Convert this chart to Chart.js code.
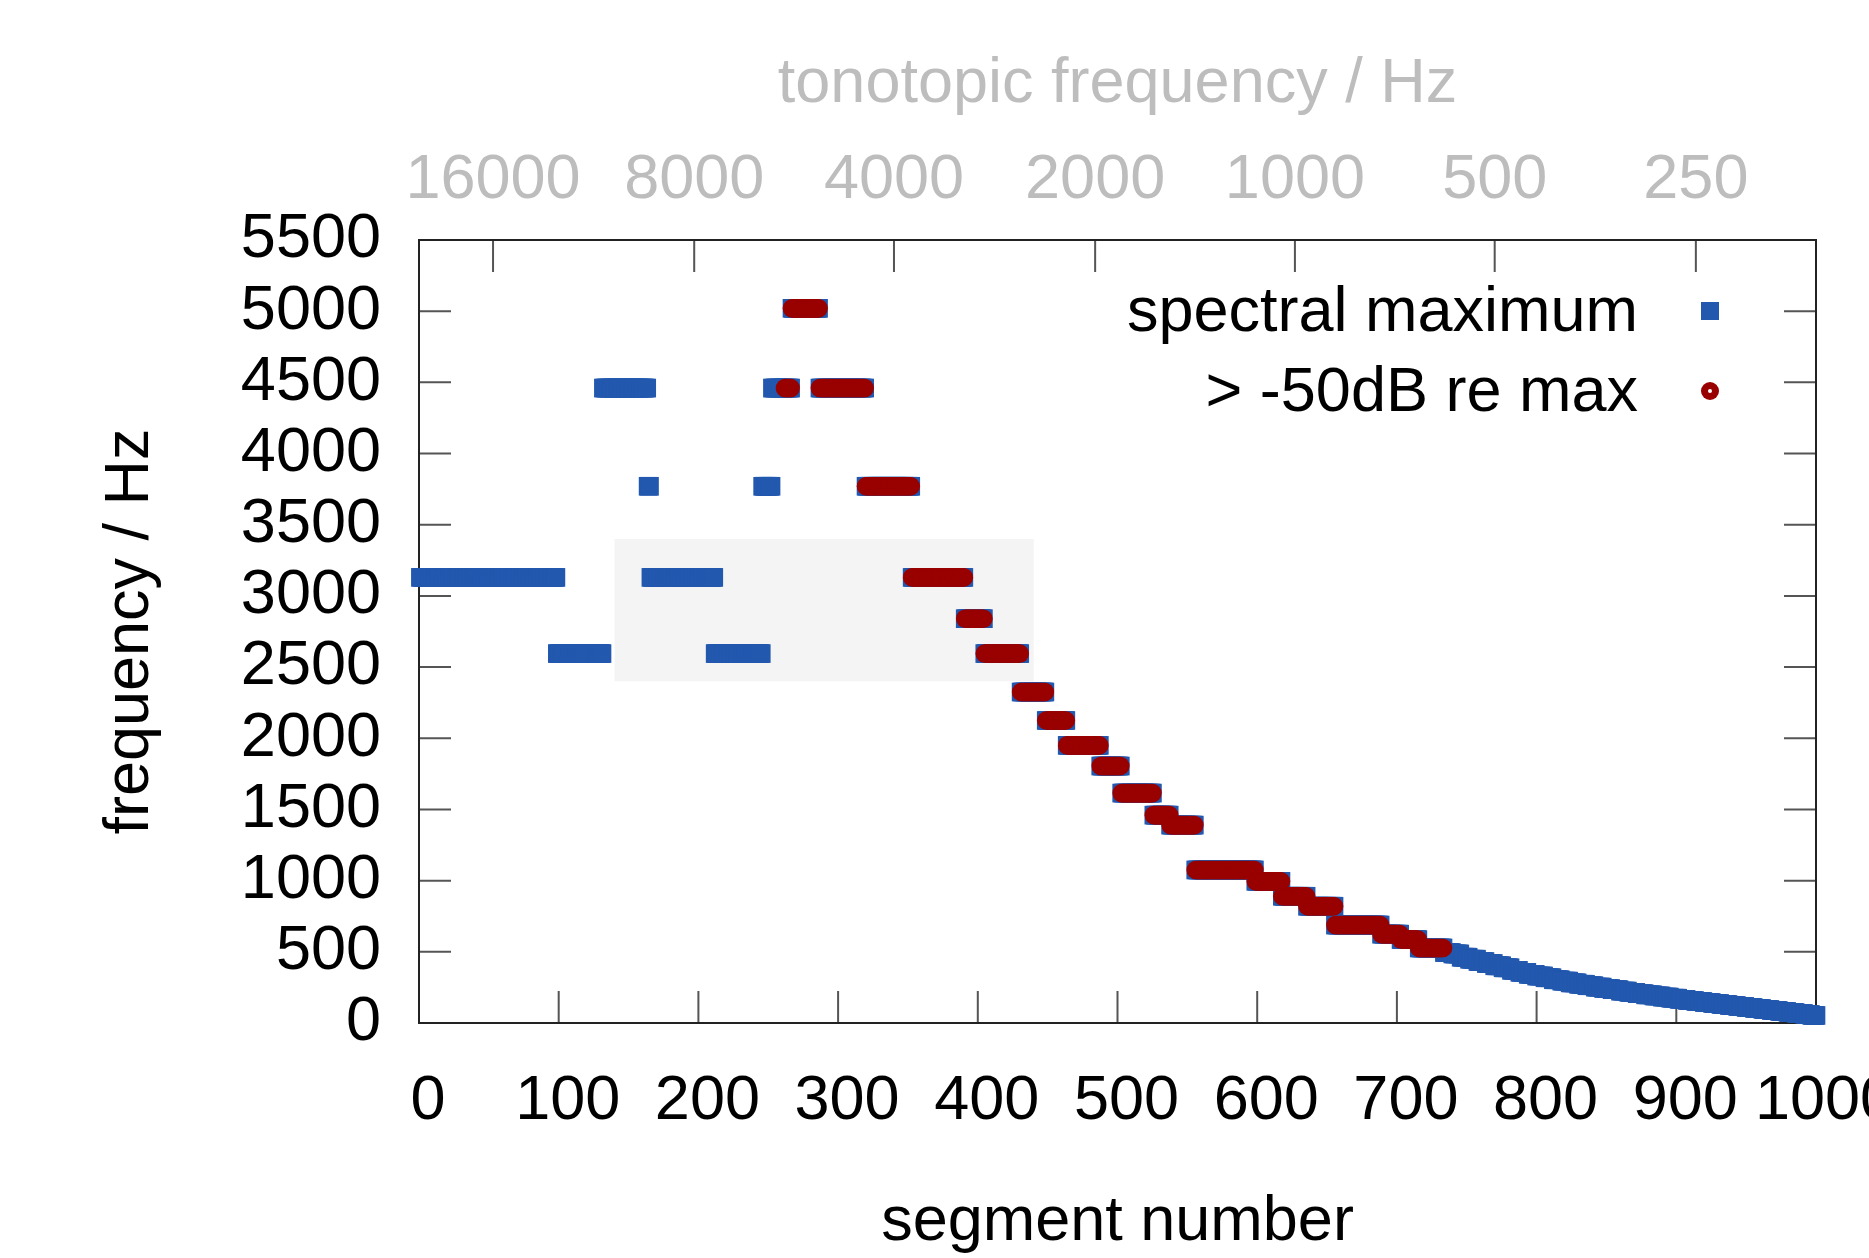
<!DOCTYPE html>
<html>
<head>
<meta charset="utf-8">
<title>spectral maximum per segment</title>
<script src="https://cdn.jsdelivr.net/npm/chart.js@4.4.1/dist/chart.umd.min.js"></script>
<style>
  html, body { margin: 0; padding: 0; background: #fff; }
  #wrap { width: 1869px; height: 1258px; position: relative; }
</style>
</head>
<body>
<div id="wrap"><canvas id="segChart"></canvas></div>
<script>
// runs of constant spectral maximum: first segment, last segment, frequency in Hz
const runStart = [1, 99, 132, 164, 166, 212, 246, 253, 267, 287, 320, 353, 391, 405, 431, 449, 464, 488, 503, 526, 538, 556, 599, 618, 636, 656, 689, 703, 716,
  734, 740, 746, 752, 758, 764, 770, 776, 782, 788, 794, 800, 806, 812, 818, 824, 830, 836, 842, 848, 854, 860, 866, 872, 878, 884, 890, 896,
  902, 908, 914, 920, 926, 932, 938, 944, 950, 956, 962, 968, 974, 980, 986, 992, 997];
const runEnd = [98, 131, 163, 165, 211, 245, 252, 266, 286, 319, 352, 390, 404, 430, 448, 463, 487, 502, 525, 537, 555, 598, 617, 635, 655, 688, 702, 715, 733,
  739, 745, 751, 757, 763, 769, 775, 781, 787, 793, 799, 805, 811, 817, 823, 829, 835, 841, 847, 853, 859, 865, 871, 877, 883, 889, 895, 901,
  907, 913, 919, 925, 931, 937, 943, 949, 955, 961, 967, 973, 979, 985, 991, 996, 1000];
const runFreq = [3130, 2595, 4460, 3770, 3130, 2595, 3770, 4460, 5020, 4460, 3770, 3130, 2840, 2595, 2325, 2125, 1950, 1805, 1615, 1460, 1390, 1075, 995, 890, 820, 688, 624, 586, 527,
  495, 485, 462, 448, 432, 418, 402, 388, 370, 356, 342, 330, 318, 304, 294, 282, 272, 262, 252, 242, 234, 224, 215, 206, 198, 190, 182, 174,
  166, 158, 151, 144, 137, 130, 123, 116, 109, 102, 95, 88, 81, 74, 67, 60, 53];

// segments whose maximum lies within 50 dB of the overall maximum
const loudRange = [262, 733];

// top axis: tonotopic frequency at segment positions
const tonoTickPos = [53, 197, 340, 484, 627, 770, 914];
const tonoTickLabels = ['16000', '8000', '4000', '2000', '1000', '500', '250'];

// shaded region (segment range, frequency range)
const shadeSeg = [140, 440];
const shadeFreq = [2400, 3400];

const FONT = 'Liberation Sans, Arial, Helvetica, sans-serif';
const BLUE = '#2258ae';
const RED = '#990000';
const GREY = '#bdbdbd';

const maxPoints = [];
const loudPoints = [];
runStart.forEach((s, i) => {
    for (let seg = s; seg <= runEnd[i]; seg++) {
        maxPoints.push({ x: seg, y: runFreq[i] });
        if (seg >= loudRange[0] && seg <= loudRange[1]) {
            loudPoints.push({ x: seg, y: runFreq[i] });
        }
    }
});

// border, inward ticks and shaded box, drawn under the points
const frame = {
    id: 'frame',
    beforeDatasetsDraw(chart) {
        const { ctx, chartArea: a, scales } = chart;
        const x = scales.x, x2 = scales.x2, y = scales.y;
        ctx.save();
        const bx0 = x.getPixelForValue(shadeSeg[0]);
        const bx1 = x.getPixelForValue(shadeSeg[1]);
        const by0 = y.getPixelForValue(shadeFreq[1]);
        const by1 = y.getPixelForValue(shadeFreq[0]);
        ctx.fillStyle = '#f4f4f4';
        ctx.fillRect(bx0, by0, bx1 - bx0, by1 - by0);

        const len = 32;
        ctx.strokeStyle = '#555';
        ctx.lineWidth = 2;
        ctx.beginPath();
        x.ticks.forEach(t => {
            const px = x.getPixelForValue(t.value);
            ctx.moveTo(px, a.bottom);
            ctx.lineTo(px, a.bottom - len);
        });
        x2.ticks.forEach(t => {
            const px = x2.getPixelForValue(t.value);
            ctx.moveTo(px, a.top);
            ctx.lineTo(px, a.top + len);
        });
        y.ticks.forEach(t => {
            const py = y.getPixelForValue(t.value);
            ctx.moveTo(a.left, py);
            ctx.lineTo(a.left + len, py);
            ctx.moveTo(a.right, py);
            ctx.lineTo(a.right - len, py);
        });
        ctx.stroke();
        ctx.strokeStyle = '#222';
        ctx.strokeRect(a.left, a.top, a.right - a.left, a.bottom - a.top);
        ctx.restore();
    }
};

// key in the top right corner, text first then the marker
const key = {
    id: 'key',
    afterDraw(chart) {
        const { ctx, chartArea: a } = chart;
        ctx.save();
        ctx.font = '63px ' + FONT;
        ctx.textAlign = 'right';
        ctx.textBaseline = 'alphabetic';
        const textX = a.right - 178;
        const markX = a.right - 106;
        chart.data.datasets.forEach((ds, i) => {
            const cy = a.top + 71 + i * 80;
            ctx.fillStyle = '#000';
            ctx.fillText(ds.label, textX, cy + 20);
            ctx.fillStyle = ds.backgroundColor;
            if (ds.pointStyle === 'rect') {
                ctx.fillRect(markX - 9, cy - 9, 18, 18);
            } else {
                ctx.beginPath();
                ctx.arc(markX, cy, 9, 0, Math.PI * 2);
                ctx.fill();
                ctx.fillStyle = '#fff';
                ctx.beginPath();
                ctx.arc(markX, cy, 2, 0, Math.PI * 2);
                ctx.fill();
            }
        });
        ctx.restore();
    }
};

const tickFont = { family: FONT, size: 63 };
const plainNumber = v => String(v);

const ctx = document.getElementById('segChart');
const segChart = new Chart(ctx, {
    type: 'scatter',
    data: {
        datasets: [
            {
                label: 'spectral maximum',
                data: maxPoints,
                pointStyle: 'rect',
                pointRadius: 13.2,
                backgroundColor: BLUE,
                borderWidth: 0,
                clip: false,
                order: 2
            },
            {
                label: '> -50dB re max',
                data: loudPoints,
                pointStyle: 'circle',
                pointRadius: 9.3,
                backgroundColor: RED,
                borderWidth: 0,
                clip: false,
                order: 1
            }
        ]
    },
    options: {
        responsive: true,
        maintainAspectRatio: false,
        animation: false,
        events: [],
        layout: { padding: { left: 0, top: 0, right: 53, bottom: 0 } },
        plugins: {
            legend: { display: false },
            tooltip: { enabled: false }
        },
        scales: {
            x: {
                type: 'linear',
                position: 'bottom',
                min: 0,
                max: 1000,
                grid: { display: false, drawTicks: false },
                border: { display: false },
                ticks: {
                    stepSize: 100,
                    padding: 41,
                    labelOffset: 9,
                    autoSkip: false,
                    maxRotation: 0,
                    color: '#000',
                    font: tickFont,
                    callback: plainNumber
                },
                title: {
                    display: true,
                    text: 'segment number',
                    color: '#000',
                    font: tickFont,
                    padding: { top: 0, bottom: -2 }
                },
                afterFit(s) {
                    s.height = 235;
                    s.paddingLeft = 0;
                    s.paddingRight = 0;
                }
            },
            x2: {
                type: 'linear',
                position: 'top',
                min: 0,
                max: 1000,
                grid: { display: false, drawTicks: false },
                border: { display: false },
                afterBuildTicks(s) {
                    s.ticks = tonoTickPos.map(v => ({ value: v }));
                },
                ticks: {
                    padding: 22,
                    autoSkip: false,
                    maxRotation: 0,
                    color: GREY,
                    font: tickFont,
                    callback: (v, i) => tonoTickLabels[i]
                },
                title: {
                    display: true,
                    text: 'tonotopic frequency / Hz',
                    color: GREY,
                    font: tickFont,
                    padding: { top: 47, bottom: 0 }
                },
                afterFit(s) {
                    s.height = 240;
                    s.paddingLeft = 0;
                    s.paddingRight = 0;
                }
            },
            y: {
                type: 'linear',
                min: 0,
                max: 5500,
                grid: { display: false, drawTicks: false },
                border: { display: false },
                ticks: {
                    stepSize: 500,
                    padding: 38,
                    autoSkip: false,
                    color: '#000',
                    font: tickFont,
                    callback: plainNumber
                },
                title: {
                    display: true,
                    text: 'frequency / Hz',
                    color: '#000',
                    font: tickFont,
                    padding: { top: 93, bottom: 0 }
                },
                afterFit(s) {
                    s.width = 419;
                    s.paddingTop = 0;
                    s.paddingBottom = 0;
                }
            }
        }
    },
    plugins: [frame, key]
});
</script>
</body>
</html>
